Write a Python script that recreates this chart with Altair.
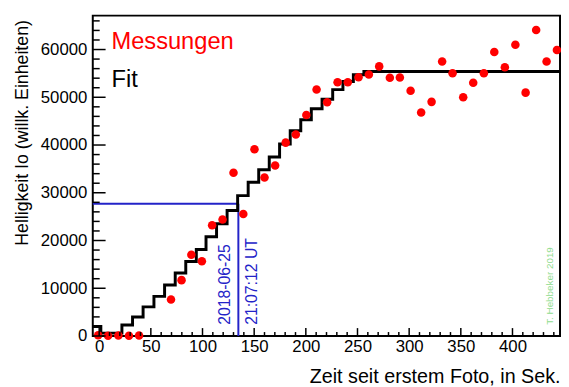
import altair as alt
import pandas as pd

# measured points (time in s, brightness)
meas_t = [-1.0, 8.6, 18.6, 28.8, 38.6, 69.5, 79.7, 89.2, 99.4, 109.3, 119.4, 130.0, 139.5,
          150.3, 160.0, 170.3, 180.5, 190.3, 200.5, 210.4, 220.6, 230.7, 240.6, 251.0,
          261.0, 271.0, 281.3, 291.0, 301.4, 311.6, 321.7, 331.9, 342.0, 352.3, 362.0,
          372.3, 382.4, 392.6, 402.8, 412.7, 422.9, 433.0, 443.0]
meas_v = [150, 50, 100, 50, 100, 7640, 11700, 17000, 15640, 23200, 24400, 34200, 25550,
          39100, 33200, 35700, 40500, 42200, 46280, 51650, 48970, 53160, 53160, 54200,
          54750, 56470, 54070, 54150, 51380, 46830, 49040, 57500, 55030, 50000, 53030,
          55030, 59500, 56270, 61020, 50970, 64110, 57500, 59900]

# fit staircase (bin start, value)
fit_t = [-6.2, 1.6, 22.0, 32.3, 42.5, 53.0, 63.3, 73.6, 83.8, 94.0, 103.4, 113.6, 123.8,
         134.0, 144.2, 154.4, 164.6, 174.6, 184.9, 195.1, 205.3, 215.7, 226.0, 235.9,
         246.0, 256.2, 446.0]
fit_v = [2000, 600, 2300, 4000, 6100, 8300, 10700, 13200, 15600, 18100, 20800, 23500,
         26300, 29400, 32200, 34800, 37500, 40200, 43000, 45300, 47600, 49600, 51600,
         53300, 54700, 55400, 55400]

half_t = 134.7
half_v = 27700

x_dom = [-6.2, 446.0]
y_dom = [0, 67100]
x_labels = list(range(0, 401, 50))
y_labels = list(range(0, 60001, 10000))
x_major = list(range(0, 446, 50))
x_minor = [v for v in range(0, 446, 10) if v % 50]
y_major = list(range(0, 67001, 10000))
y_minor = [v for v in range(0, 67001, 2000) if v % 10000]

W, H = 474, 325
FONT = "Liberation Sans"

xs = alt.Scale(domain=x_dom, nice=False, zero=False)
ys = alt.Scale(domain=y_dom, nice=False, zero=False)

x_axis = alt.Axis(values=x_labels, ticks=False, domain=False, grid=False, format="d",
                  labelFont=FONT, labelFontSize=17, labelColor="black", labelPadding=3,
                  labelOverlap=False, labelFlush=False,
                  title="Zeit seit erstem Foto, in Sek.", titleFont=FONT, titleFontSize=20,
                  titleFontWeight="normal", titleColor="black", titleX=474, titleY=47,
                  titleAlign="right", titleBaseline="alphabetic")
y_axis = alt.Axis(values=y_labels, ticks=False, domain=False, grid=False, format="d",
                  labelFont=FONT, labelFontSize=17, labelColor="black", labelPadding=6,
                  labelOverlap=False,
                  title="Helligkeit Io (willk. Einheiten)", titleFont=FONT, titleFontSize=18,
                  titleFontWeight="normal", titleColor="black", titleAngle=270,
                  titleX=-71, titleY=4, titleAlign="right", titleBaseline="middle")


def X(f):
    return alt.X(f, type="quantitative", scale=xs, axis=x_axis)


def Y(f):
    return alt.Y(f, type="quantitative", scale=ys, axis=y_axis)


meas = pd.DataFrame({"t": meas_t, "v": meas_v})
fit = pd.DataFrame({"t": fit_t, "v": fit_v})

points = alt.Chart(meas).mark_circle(color="#ff0000", opacity=1, size=75).encode(
    x=X("t"), y=Y("v"))

steps = alt.Chart(fit).mark_line(interpolate="step-after", color="black",
                                 strokeWidth=3, clip=True).encode(x=X("t"), y=Y("v"))

hline = alt.Chart(pd.DataFrame({"t": [x_dom[0]], "b": [half_t], "v": [half_v]})).mark_rule(
    color="#2323c8", strokeWidth=2).encode(x=X("t"), x2="b:Q", y=Y("v"))
vline = alt.Chart(pd.DataFrame({"t": [half_t], "v": [0], "b": [half_v]})).mark_rule(
    color="#2323c8", strokeWidth=2).encode(x=X("t"), y=Y("v"), y2="b:Q")


# ticks (inward, ROOT style)
def yticks(vals, length):
    return alt.Chart(pd.DataFrame({"v": vals})).mark_rule(color="black", strokeWidth=1.5).encode(
        y=Y("v"), x=alt.value(0), x2=alt.value(length))


def xticks(vals, length):
    return alt.Chart(pd.DataFrame({"t": vals})).mark_rule(color="black", strokeWidth=1.5).encode(
        x=X("t"), y=alt.value(H), y2=alt.value(H - length))


legend = pd.DataFrame({"t": [11.9, 11.9], "v": [60100, 52250], "txt": ["Messungen", "Fit"],
                       "c": ["#ff0000", "#000000"]})
legend_txt = alt.Chart(legend).mark_text(font=FONT, fontSize=24, align="left",
                                         baseline="alphabetic").encode(
    x=X("t"), y=Y("v"), text="txt:N", color=alt.Color("c:N", scale=None))

blue = pd.DataFrame({"t": [121.7, 148.1], "v": [2330, 2330], "txt": ["2018-06-25", "21:07:12 UT"]})
blue_txt = alt.Chart(blue).mark_text(font=FONT, fontSize=16, align="left", baseline="middle",
                                     angle=270, color="#2323c8").encode(
    x=X("t"), y=Y("v"), text="txt:N")

wm = pd.DataFrame({"t": [436.5], "v": [2330], "txt": ["T. Hebbeker 2019"]})
wm_txt = alt.Chart(wm).mark_text(font=FONT, fontSize=10, align="left", baseline="middle",
                                 angle=270, color="#8fdc8f").encode(
    x=X("t"), y=Y("v"), text="txt:N")

chart = alt.layer(
    hline, vline, steps, points,
    yticks(y_major, 13), yticks(y_minor, 7), xticks(x_major, 8), xticks(x_minor, 4),
    legend_txt, blue_txt, wm_txt,
).properties(
    width=W, height=H,
    autosize=alt.AutoSizeParams(type="none"),
    padding={"left": 86, "top": 5, "right": 1, "bottom": 49},
    background="white",
).configure(font=FONT, view=alt.ViewConfig(stroke="black", strokeWidth=2))

chart.save("out.html", embed_options={"renderer": "svg", "actions": False})
